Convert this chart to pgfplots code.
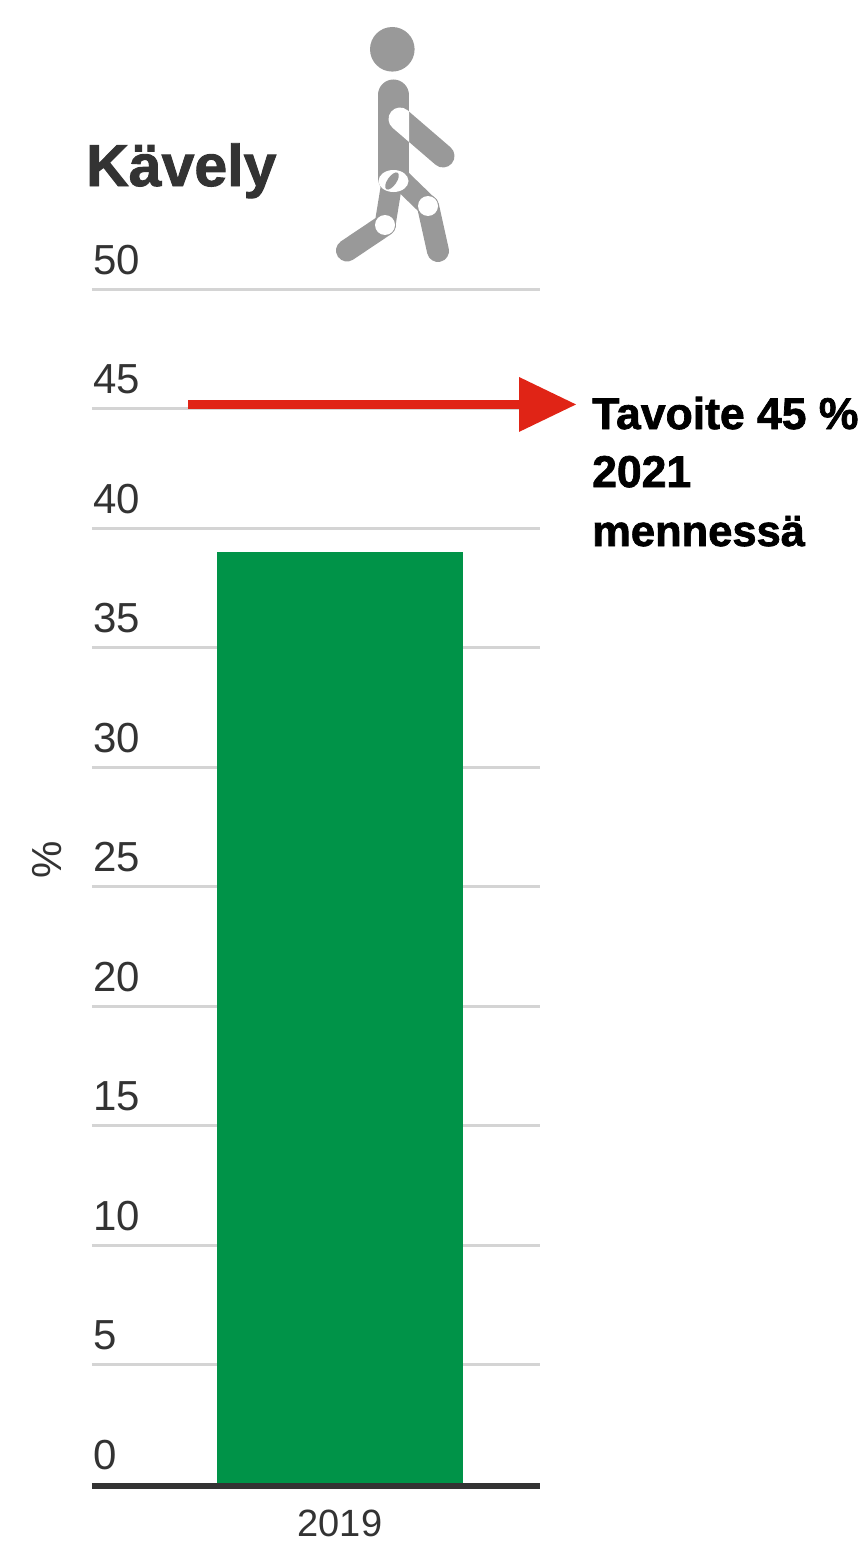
\documentclass[border=0pt]{standalone}
\usepackage{pgfplots}
\pgfplotsset{compat=1.18}
\usepackage{fontspec}
\setmainfont{Liberation Sans}
\newfontfamily\heavy[FakeBold=1.6]{Liberation Sans Bold}
\definecolor{txt}{HTML}{333333}
\definecolor{gridc}{HTML}{D4D4D4}
\definecolor{barc}{HTML}{009348}
\definecolor{arrowc}{HTML}{E02416}
\definecolor{icon}{HTML}{999999}
\begin{document}
\begin{tikzpicture}
\useasboundingbox (0pt,0pt) rectangle (864pt,-1544pt);
\begin{axis}[
  at={(92pt,-1484pt)}, anchor=south west,
  scale only axis, width=448pt, height=1195pt,
  xmin=-248, xmax=200, ymin=0, ymax=50,
  clip=false,
  axis x line*=bottom, axis y line*=left,
  axis line style={draw=none},
  major tick length=0pt,
  ytick={0,5,...,50},
  xtick={0}, xticklabels={2019},
  ymajorgrids, grid style={draw=gridc, line width=3pt},
  /pgf/number format/assume math mode=true,
  yticklabel style={anchor=south west, font=\fontsize{42}{42}\selectfont, text=txt, inner sep=0pt, xshift=1pt, yshift=14pt},
  xticklabel style={font=\fontsize{38}{38}\selectfont, text=txt, inner sep=0pt, yshift=-26pt, anchor=north},
  ylabel={\%},
  ylabel style={at={(axis description cs:-0.10,0.522)}, anchor=center, rotate=0, font=\fontsize{42}{42}\selectfont, text=txt, inner sep=0pt},
]
\addplot[ybar, bar width=246pt, bar shift=0pt, fill=barc, draw=none] coordinates {(0,39)};
\addplot[line width=6pt, color=txt, forget plot] coordinates {(-248,-0.084) (200,-0.084)};
\addplot[line width=8.5pt, color=arrowc, forget plot] coordinates {(-152,45.17) (182,45.17)};
\addplot[fill=arrowc, draw=none, forget plot] coordinates {(179,46.32) (236,45.17) (179,44.02)} -- cycle;
\end{axis}
\node[anchor=base west, inner sep=0pt, font=\fontsize{59}{59}\selectfont\heavy, text=txt] at (86pt,-186pt) {Kävely};
\node[anchor=base west, inner sep=0pt, font=\fontsize{44.5}{44.5}\selectfont\heavy, text=black] at (592pt,-429pt) {Tavoite 45 \%};
\node[anchor=base west, inner sep=0pt, font=\fontsize{44.5}{44.5}\selectfont\heavy, text=black] at (592pt,-487pt) {2021};
\node[anchor=base west, inner sep=0pt, font=\fontsize{43.5}{43.5}\selectfont\heavy, text=black] at (592pt,-546pt) {mennessä};
% walking figure
\begin{scope}[x=1pt,y=-1pt,line cap=round]
\fill[icon] (392.3,49.3) circle (22.3);
\draw[icon,line width=23pt] (443,156) -- (400,119);
\draw[icon,line width=21pt] (392,182) -- (385,225);
\draw[icon,line width=22pt] (385,225) -- (347,250.5);
\draw[icon,line width=21pt] (397,176) -- (428,206);
\draw[icon,line width=22pt] (428,206) -- (438,251);
\draw[icon,line width=31pt] (393.3,95) -- (393.3,178);
\begin{scope}
\clip (378,85) rectangle (409,200);
\draw[white,line width=23pt] (443,156) -- (400,119);
\end{scope}
\fill[white] (428,206) circle (10);
\fill[white] (385,225) circle (10);
\fill[white] (393.5,181) ellipse (15 and 11);
\fill[icon,rotate around={55:(392,181)}] (392,181) ellipse (10 and 4.5);
\end{scope}
\end{tikzpicture}
\end{document}
